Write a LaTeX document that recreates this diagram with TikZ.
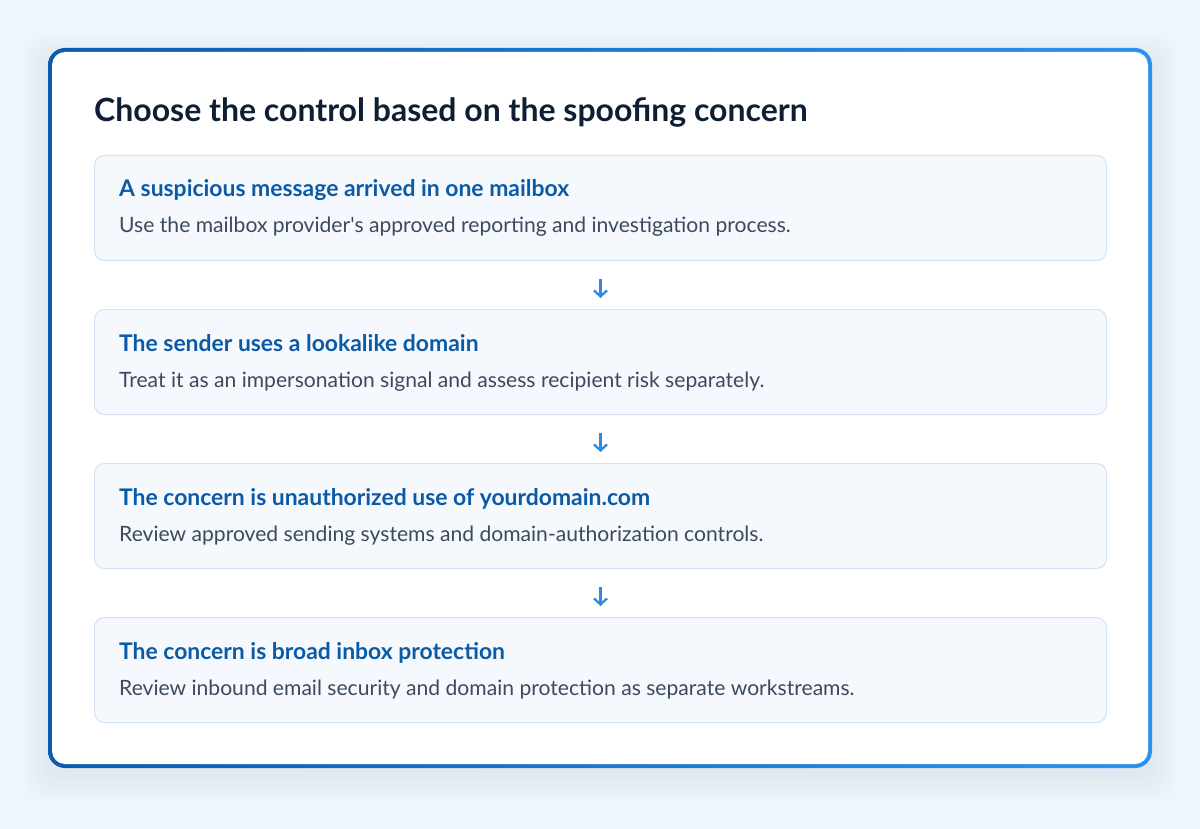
\documentclass[tikz,border=0pt]{standalone}
\usepackage{fontspec}
\setmainfont{Lato}
\newfontfamily\latoplain{Lato}[Ligatures=TeXOff]
\usetikzlibrary{arrows.meta}
\definecolor{bgc}{HTML}{EEF5FC}
\definecolor{cardA}{HTML}{0B5CAD}
\definecolor{cardB}{HTML}{2C92F2}
\definecolor{titlec}{HTML}{0F1F33}
\definecolor{boxfill}{HTML}{F5F9FD}
\definecolor{boxline}{HTML}{D3E2F2}
\definecolor{headc}{HTML}{0B5AA6}
\definecolor{descc}{HTML}{3B4A5C}
\definecolor{arrc}{HTML}{2A8AE6}
\tikzset{
  stepbox/.style={draw=boxline, line width=1pt, fill=boxfill, rounded corners=10pt,
    minimum width=1012pt, minimum height=105pt, inner sep=0pt, anchor=north west},
  headtxt/.style={font=\bfseries\fontsize{22.9}{26}\selectfont, text=headc, inner sep=0pt, anchor=base west},
  desctxt/.style={font=\fontsize{21.1}{24}\selectfont, text=descc, inner sep=0pt, anchor=base west},
  flowarr/.style={draw=arrc, line width=2.3pt, -{Straight Barb[length=6pt,width=13pt,line width=2.3pt]}}
}
\begin{document}
\begin{tikzpicture}[x=1pt,y=-1pt]
\fill[bgc] (0,0) rectangle (1200,829);
\useasboundingbox (0,0) rectangle (1200,829);
% soft shadow
\foreach \d in {2,4,...,26}{
  \fill[cardA, opacity=0.0045, rounded corners=20pt] (48-\d,58-\d) rectangle (1152+\d,776+\d);
}
% card
\shade[left color=cardA, right color=cardB, rounded corners=17pt] (48,48) rectangle (1152,768);
\fill[white, rounded corners=13pt] (52,52) rectangle (1148,764);
\node[font=\bfseries\fontsize{32}{38}\selectfont, text=titlec, inner sep=0pt, anchor=base west] (title) at (94,122) {Choose the control based on the spoofing concern};

\node[stepbox] (b1) at (94,155) {};
\node[headtxt] (h1) at (119,197) {A suspicious message arrived in one mailbox};
\node[desctxt] (d1) at (119,233) {Use the mailbox provider{\latoplain'}s approved reporting and investigation process.};

\node[stepbox] (b2) at (94,309) {};
\node[headtxt] (h2) at (119,351) {The sender uses a lookalike domain};
\node[desctxt] (d2) at (119,387) {Treat it as an impersonation signal and assess recipient risk separately.};

\node[stepbox] (b3) at (94,463) {};
\node[headtxt] (h3) at (119,505) {The concern is unauthorized use of yourdomain.com};
\node[desctxt] (d3) at (119,541) {Review approved sending systems and domain-authorization controls.};

\node[stepbox] (b4) at (94,617) {};
\node[headtxt] (h4) at (119,659) {The concern is broad inbox protection};
\node[desctxt] (d4) at (119,695) {Review inbound email security and domain protection as separate workstreams.};

\draw[flowarr] ([yshift=-18pt]b1.south) -- ([yshift=11pt]b2.north);
\draw[flowarr] ([yshift=-18pt]b2.south) -- ([yshift=11pt]b3.north);
\draw[flowarr] ([yshift=-18pt]b3.south) -- ([yshift=11pt]b4.north);
\end{tikzpicture}
\end{document}
